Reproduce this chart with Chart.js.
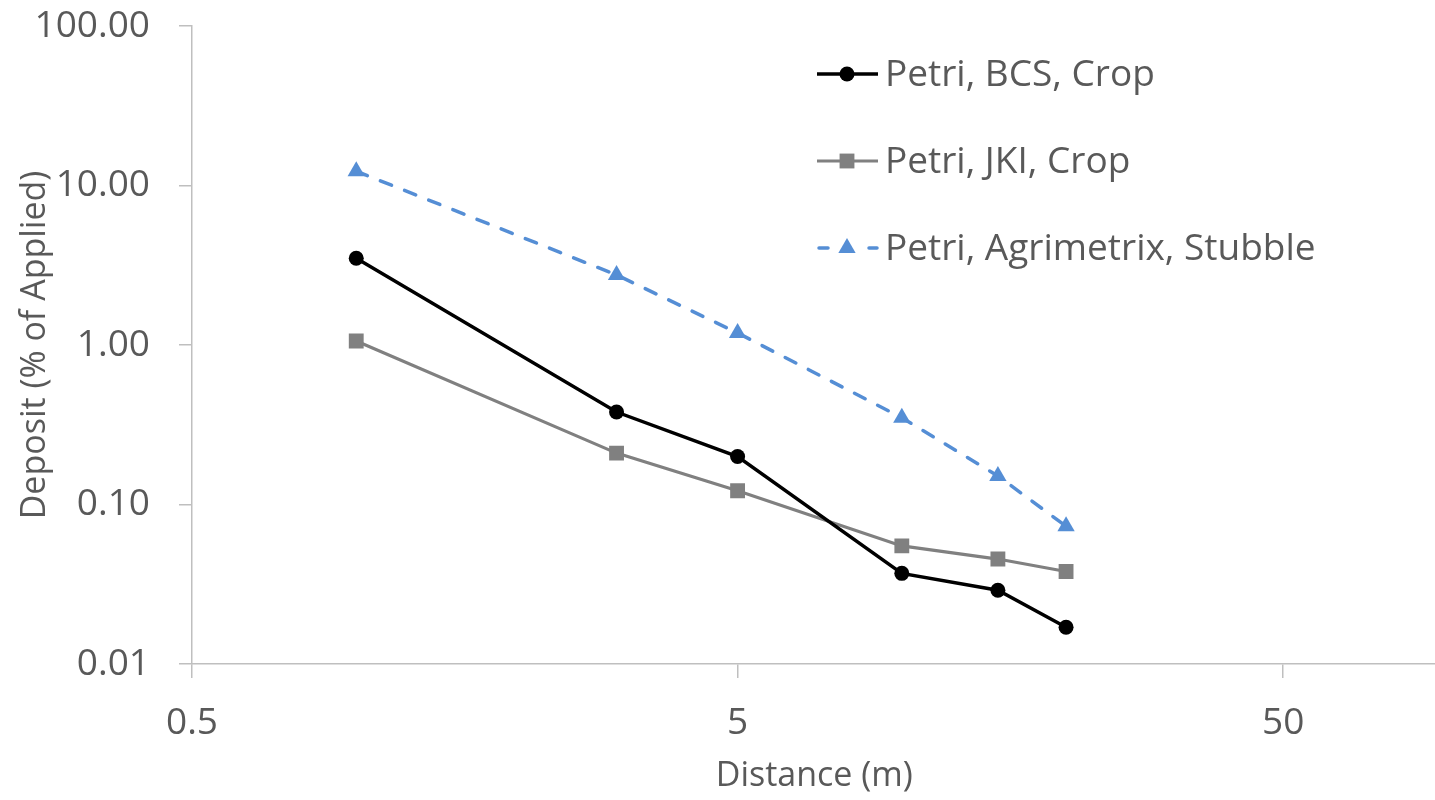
<!DOCTYPE html>
<html>
<head>
<meta charset="utf-8">
<script src="https://cdn.jsdelivr.net/npm/chart.js@4"></script>
<style>
  html, body { margin: 0; padding: 0; background: #fff; overflow: hidden; }
  #wrap { width: 1447px; height: 800px; }
</style>
</head>
<body>
<div id="wrap"><canvas id="depositChart"></canvas></div>
<script>
// data
const distances = [1, 3, 5, 10, 15, 20];
const bcsCrop = [3.5, 0.38, 0.20, 0.037, 0.029, 0.017];
const jkiCrop = [1.06, 0.21, 0.122, 0.055, 0.0455, 0.038];
const agrimetrixStubble = [12.3, 2.75, 1.19, 0.35, 0.151, 0.073];

const xTicks = [0.5, 5, 50];
const yTicks = [0.01, 0.1, 1, 10, 100];

const textColor = '#595959';
const axisColor = '#bfbfbf';
const fontFamily = "'Open Sans', 'Liberation Sans', sans-serif";

function pts(ys) {
  return distances.map((d, i) => ({ x: d, y: ys[i] }));
}

// legend drawn inside the plot area, top right
const insideLegend = {
  id: 'insideLegend',
  afterDraw(chart) {
    const ctx = chart.ctx;
    const rows = [74, 161, 248];
    ctx.save();
    chart.data.datasets.forEach((ds, i) => {
      const y = rows[i];
      ctx.strokeStyle = ds.borderColor;
      ctx.lineWidth = ds.borderWidth;
      ctx.lineCap = ds.borderDash ? 'round' : 'butt';
      ctx.beginPath();
      if (ds.borderDash) {
        ctx.moveTo(819, y); ctx.lineTo(828, y);
        ctx.moveTo(869, y); ctx.lineTo(877, y);
      } else {
        ctx.moveTo(817, y); ctx.lineTo(878, y);
      }
      ctx.stroke();
      ctx.fillStyle = ds.pointBackgroundColor;
      ctx.strokeStyle = ds.pointBorderColor;
      Chart.helpers.drawPoint(ctx, {
        pointStyle: ds.pointStyle,
        radius: ds.pointRadius,
        borderWidth: 0,
        rotation: 0
      }, 847, y);
      ctx.fillStyle = textColor;
      ctx.font = '37px ' + fontFamily;
      ctx.textBaseline = 'middle';
      ctx.textAlign = 'left';
      ctx.fillText(ds.label, 885, y + 1);
    });
    ctx.restore();
  }
};

new Chart(document.getElementById('depositChart'), {
  type: 'line',
  data: {
    datasets: [{
      label: 'Petri, BCS, Crop',
      data: pts(bcsCrop),
      borderColor: '#000000',
      borderWidth: 3.5,
      pointStyle: 'circle',
      pointRadius: 7.5,
      pointBackgroundColor: '#000000',
      pointBorderColor: '#000000',
      pointBorderWidth: 0
    }, {
      label: 'Petri, JKI, Crop',
      data: pts(jkiCrop),
      borderColor: '#808080',
      borderWidth: 3.2,
      pointStyle: 'rect',
      pointRadius: 10.5,
      pointBackgroundColor: '#808080',
      pointBorderColor: '#808080',
      pointBorderWidth: 0
    }, {
      label: 'Petri, Agrimetrix, Stubble',
      data: pts(agrimetrixStubble),
      borderColor: '#558ed5',
      borderWidth: 3.5,
      borderDash: [12, 14],
      borderCapStyle: 'round',
      pointStyle: 'triangle',
      pointRadius: 10,
      pointBackgroundColor: '#558ed5',
      pointBorderColor: '#558ed5',
      pointBorderWidth: 0
    }]
  },
  options: {
    responsive: true,
    maintainAspectRatio: false,
    animation: false,
    layout: { padding: { top: 26, right: 0, left: 0, bottom: 0 } },
    elements: { line: { tension: 0 } },
    plugins: {
      legend: { display: false },
      tooltip: { enabled: false }
    },
    scales: {
      x: {
        type: 'logarithmic',
        min: 0.5,
        max: 95.5,
        afterBuildTicks: s => { s.ticks = xTicks.map(v => ({ value: v })); },
        afterFit: s => { s.height = 136; },
        border: { color: axisColor, width: 1.5 },
        grid: { drawOnChartArea: false, color: axisColor, lineWidth: 1.5, tickLength: 14 },
        ticks: {
          autoSkip: false,
          maxRotation: 0,
          color: textColor,
          padding: 23,
          font: { family: fontFamily, size: 37 },
          callback: v => String(v)
        },
        title: {
          display: true,
          text: 'Distance (m)',
          color: textColor,
          font: { family: fontFamily, size: 34 },
          padding: { top: 0, bottom: 3 }
        }
      },
      y: {
        type: 'logarithmic',
        min: 0.01,
        max: 100,
        afterBuildTicks: s => { s.ticks = yTicks.map(v => ({ value: v })); },
        afterFit: s => { s.width = 192; s.paddingTop = 0; s.paddingBottom = 0; },
        border: { color: axisColor, width: 1.5 },
        grid: { drawOnChartArea: false, color: axisColor, lineWidth: 1.5, tickLength: 13 },
        ticks: {
          autoSkip: false,
          color: textColor,
          padding: 29,
          font: { family: fontFamily, size: 37 },
          callback: v => Number(v).toFixed(2)
        },
        title: {
          display: true,
          text: 'Deposit (% of Applied)',
          color: textColor,
          font: { family: fontFamily, size: 34 },
          padding: { top: 15, bottom: 0 }
        }
      }
    }
  },
  plugins: [insideLegend]
});
</script>
</body>
</html>
